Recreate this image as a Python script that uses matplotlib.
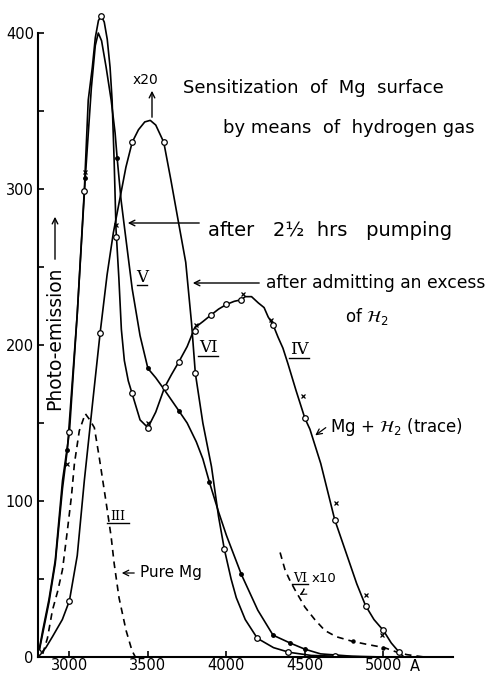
import matplotlib
matplotlib.use("Agg")
import matplotlib.pyplot as plt
from matplotlib.lines import Line2D
from matplotlib.ticker import MultipleLocator

# wavelength (A) / photo-emission
# curve IV: Mg + H2 (trace)
iv_x = [2800, 2810, 2830, 2870, 2910, 2956, 3000, 3050, 3095, 3120, 3146, 3165, 3185, 3203, 3222,
        3241, 3259, 3272, 3285, 3291, 3297, 3315, 3331, 3350, 3375, 3399, 3450, 3500, 3550, 3607,
        3650, 3696, 3750, 3798, 3850, 3899, 3950, 4000, 4050, 4095, 4120, 4160, 4203, 4240, 4266,
        4297, 4329, 4360, 4392, 4443, 4500, 4532, 4601, 4690, 4772, 4830, 4886, 4940, 5000, 5050,
        5101, 5130]
iv_y = [0, 6, 17, 37, 62, 113, 144, 220, 299, 357, 378, 397, 408, 411, 407,
        396, 378, 357, 318, 296, 274, 243, 210, 190, 177, 169, 152, 147, 157, 173,
        181, 189, 199, 211, 215, 219, 223, 226, 228, 229, 231, 231, 227, 224, 218,
        213, 205, 198, 188, 171, 153, 146, 124, 88, 64, 47, 33, 24, 17, 9,
        3, 0]
iv_circ_x = [3000, 3095, 3203, 3297, 3399, 3500, 3607, 3696, 3798, 3899, 4000, 4095, 4297, 4500,
             4690, 4886, 5000, 5101]
iv_circ_y = [144, 299, 411, 269, 169, 147, 173, 189, 209, 219, 226, 229, 213, 153, 88, 33, 17, 3]
iv_cross_x = [2987, 3101, 3297, 3500, 3804, 4108, 4285, 4487, 4696, 4892, 4990]
iv_cross_y = [124, 311, 277, 150, 213, 233, 216, 167, 99, 40, 14]

# curve V: after admitting an excess of H2 (x20)
v_x = [2800, 2850, 2892, 2955, 3000, 3050, 3095, 3150, 3196, 3240, 3280, 3320, 3360, 3400, 3440,
       3480, 3515, 3550, 3601, 3646, 3696, 3741, 3778, 3802, 3850, 3905, 3950, 3987, 4030, 4063,
       4120, 4197, 4300, 4400, 4540, 4700, 4900]
v_y = [0, 6, 13, 24, 36, 65, 113, 165, 208, 245, 272, 293, 314, 330, 338,
       343, 344, 341, 330, 306, 278, 253, 214, 182, 150, 122, 90, 69, 50, 38,
       24, 12, 6, 3, 1, 0.5, 0]
v_circ_x = [2800, 3000, 3196, 3400, 3601, 3802, 3987, 4197, 4392, 4690]
v_circ_y = [3, 36, 208, 330, 330, 182, 69, 12, 3, 0.5]

# curve VI: after 2 1/2 hrs pumping
vi_x = [2800, 2810, 2830, 2870, 2910, 2956, 2987, 3050, 3101, 3140, 3165, 3184, 3205, 3234, 3266,
        3291, 3304, 3329, 3350, 3400, 3450, 3500, 3550, 3600, 3696, 3750, 3808, 3850, 3892, 3950,
        4000, 4095, 4200, 4297, 4405, 4500, 4600, 4800, 5000]
vi_y = [0, 5, 15, 35, 60, 108, 133, 220, 307, 365, 392, 400, 395, 378, 357,
        336, 320, 293, 276, 236, 206, 185, 179, 172, 158, 150, 138, 127, 112, 93,
        78, 53, 30, 14, 9, 5, 2, 0.5, 0]
vi_dot_x = [2987, 3101, 3304, 3500, 3696, 3892, 4095, 4297, 4405, 4500]
vi_dot_y = [133, 307, 320, 185, 158, 112, 53, 14, 9, 5]

# curve VI tail x10 (dashed)
vi10_x = [4342, 4373, 4400, 4437, 4500, 4563, 4627, 4700, 4804, 4900, 5006, 5089, 5150, 5260]
vi10_y = [67, 56, 50, 43, 32, 24, 17, 13, 10, 8, 6, 3, 1.5, 0]
vi10_dot_x = [4804, 5000]
vi10_dot_y = [10, 6]

# curve III: pure Mg (dashed)
iii_x = [2830, 2860, 2892, 2925, 2956, 2987, 3013, 3032, 3063, 3101, 3130, 3159, 3190, 3234, 3266,
         3285, 3316, 3361, 3399, 3420]
iii_y = [2, 12, 30, 42, 56, 81, 103, 124, 145, 156, 152, 147, 128, 99, 77,
         60, 38, 17, 4, 0]

W, H = 492, 675


def P(x, y):
    # image pixel -> figure fraction
    return (x / W, 1 - y / H)


fig = plt.figure(figsize=(4.92, 6.75), dpi=100)
ax = fig.add_axes([38 / W, 18 / H, 415 / W, 655 / H])
ax.set_xlim(2800, 2800 + 415 / 0.157)
ax.set_ylim(0, 655 / 1.56)

lw = 1.2
ax.plot(iv_x, iv_y, "-", color="k", lw=lw)
ax.plot(v_x, v_y, "-", color="k", lw=lw)
ax.plot(vi_x, vi_y, "-", color="k", lw=lw)
ax.plot(vi10_x, vi10_y, "--", color="k", lw=lw, dashes=(4, 3))
ax.plot(iii_x, iii_y, "--", color="k", lw=lw, dashes=(4, 3))

ax.plot(iv_circ_x, iv_circ_y, "o", ms=4, mfc="white", mec="k", mew=0.9)
ax.plot(iv_cross_x, iv_cross_y, "x", ms=3.5, color="k", mew=0.9)
ax.plot(v_circ_x, v_circ_y, "o", ms=4, mfc="white", mec="k", mew=0.9)
ax.plot(vi_dot_x, vi_dot_y, "o", ms=2.5, color="k")
ax.plot(vi10_dot_x, vi10_dot_y, "o", ms=2.2, color="k")

for s in ["top", "right"]:
    ax.spines[s].set_visible(False)
ax.spines["left"].set_bounds(0, 400)
ax.spines["left"].set_linewidth(1.5)
ax.spines["bottom"].set_linewidth(1.5)

ax.set_xticks([3000, 3500, 4000, 4500, 5000])
ax.set_yticks([0, 100, 200, 300, 400])
ax.yaxis.set_minor_locator(MultipleLocator(50))
ax.tick_params(axis="both", which="major", direction="in", length=4, width=1.2,
               labelsize=10.5, pad=3)
ax.tick_params(axis="x", which="major", pad=1)
ax.tick_params(axis="y", which="minor", direction="in", length=4, width=1.2)
ax.text(5200, -1, "A", ha="center", va="top", fontsize=10.5)

# titles and labels
fig.text(*P(183, 88), "Sensitization  of  Mg  surface", fontsize=13, va="center")
fig.text(*P(223, 128), "by means  of  hydrogen gas", fontsize=13, va="center")
fig.text(*P(145, 80), "x20", fontsize=10, ha="center", va="center")
ax.annotate("", xy=P(152, 88), xytext=P(152, 120), xycoords="figure fraction",
            textcoords="figure fraction", arrowprops=dict(arrowstyle="->", lw=1))

fig.text(*P(208, 230), "after   2½  hrs   pumping", fontsize=14, va="center")
ax.annotate("", xy=P(125, 223), xytext=P(202, 223), xycoords="figure fraction",
            textcoords="figure fraction", arrowprops=dict(arrowstyle="->", lw=1))

fig.text(*P(266, 283), "after admitting an excess", fontsize=12.3, va="center")
fig.text(*P(345, 316), r"of $\mathcal{H}_2$", fontsize=12, va="center")
ax.annotate("", xy=P(190, 283), xytext=P(262, 283), xycoords="figure fraction",
            textcoords="figure fraction", arrowprops=dict(arrowstyle="->", lw=1))

fig.text(*P(330, 427), r"Mg + $\mathcal{H}_2$ (trace)", fontsize=12, va="center")
ax.annotate("", xy=P(313, 437), xytext=P(328, 426), xycoords="figure fraction",
            textcoords="figure fraction", arrowprops=dict(arrowstyle="->", lw=0.9))

fig.text(*P(140, 572), "Pure Mg", fontsize=11, va="center")
ax.annotate("", xy=P(119, 573), xytext=P(137, 573), xycoords="figure fraction",
            textcoords="figure fraction", arrowprops=dict(arrowstyle="->", lw=0.9))

# roman numerals, underlined
numerals = [("V", 142, 277, 12), ("VI", 208, 348, 12), ("IV", 299, 350, 12),
            ("III", 118, 517, 9), ("VI", 300, 578, 9)]
for lab, x, y, size in numerals:
    fig.text(*P(x, y), lab, fontsize=size, family="DejaVu Serif", ha="center", va="center")
    half = size * 0.42 * len(lab)
    fig.add_artist(Line2D([(x - half) / W, (x + half) / W],
                          [1 - (y + size * 0.65) / H] * 2, color="k", lw=1))
fig.text(*P(312, 579), "x10", fontsize=9.5, va="center")
ax.annotate("", xy=P(297, 596), xytext=P(304, 586), xycoords="figure fraction",
            textcoords="figure fraction",
            arrowprops=dict(arrowstyle="->", lw=0.8, connectionstyle="arc3,rad=-0.4"))

fig.text(*P(55, 338), "Photo-emission", fontsize=13.5, rotation=90, ha="center", va="center")
ax.annotate("", xy=P(55, 214), xytext=P(55, 262), xycoords="figure fraction",
            textcoords="figure fraction", arrowprops=dict(arrowstyle="->", lw=1))

fig.savefig("out.png", dpi=100)
